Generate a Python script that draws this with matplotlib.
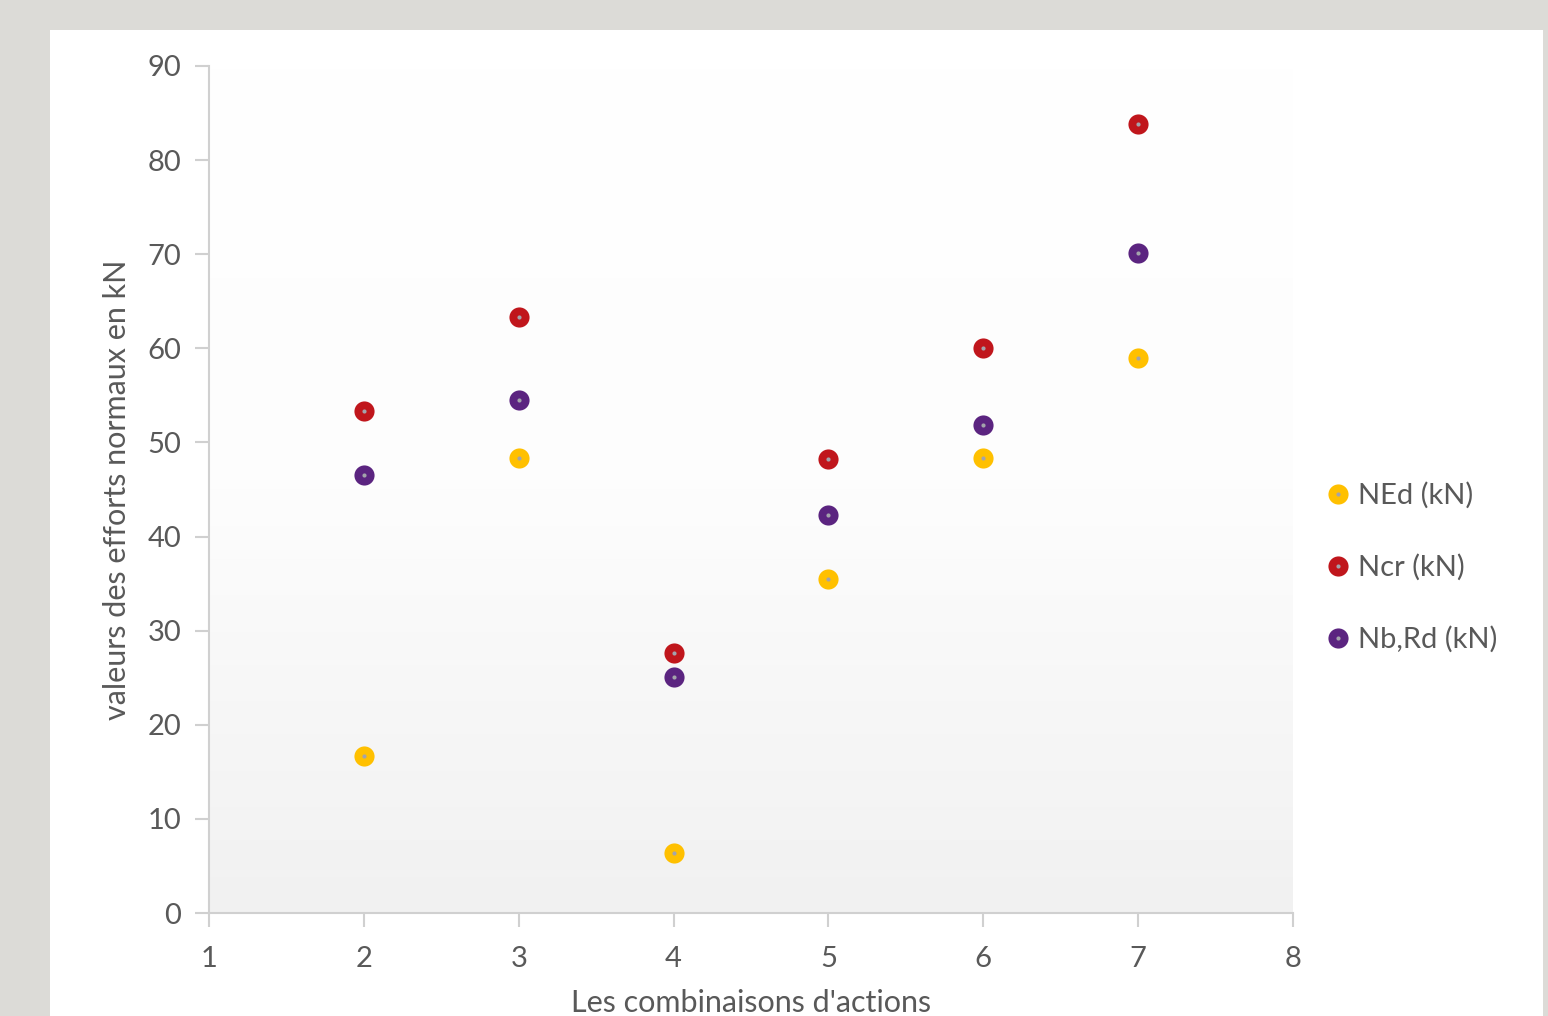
import matplotlib.pyplot as plt
import numpy as np
from matplotlib.patches import Rectangle
from matplotlib.lines import Line2D
from matplotlib.colors import LinearSegmentedColormap

plt.rcParams['font.family'] = ['Lato', 'DejaVu Sans']

combinaisons = [2, 3, 4, 5, 6, 7]
ned = [16.7, 48.3, 6.4, 35.5, 48.3, 59.0]
ncr = [53.3, 63.3, 27.6, 48.2, 60.0, 83.8]
nbrd = [46.5, 54.5, 25.1, 42.3, 51.9, 70.1]
series_names = ['NEd (kN)', 'Ncr (kN)', 'Nb,Rd (kN)']
series_colors = ['#ffc000', '#c0161c', '#5b2480']
x_ticks = [1, 2, 3, 4, 5, 6, 7, 8]
y_ticks = [0, 10, 20, 30, 40, 50, 60, 70, 80, 90]

W, H = 1548, 1016
fig = plt.figure(figsize=(W / 100, H / 100), dpi=100)
fig.patch.set_facecolor('#dcdbd7')
# white card behind the chart
fig.patches.append(Rectangle((50 / W, 0), (1543 - 50) / W, (H - 30) / H,
                             transform=fig.transFigure, facecolor='white',
                             edgecolor='none', zorder=-10))

ax = fig.add_axes([209 / W, (H - 913) / H, (1293 - 209) / W, (913 - 66) / H])
ax.set_facecolor('none')

# soft vertical gradient in the plot area
grad = np.linspace(0, 1, 256).reshape(-1, 1)
bg_cmap = LinearSegmentedColormap.from_list('bg', ['#ffffff', '#fdfdfd', '#f1f1f1'])
ax.imshow(grad, extent=[1, 8, 0, 90], aspect='auto', origin='upper',
          cmap=bg_cmap, zorder=0)

handles = []
for vals, name, col in zip([ned, ncr, nbrd], series_names, series_colors):
    ax.plot(combinaisons, vals, 'o', ms=14.5, color=col, mec='none', zorder=3)
    ax.plot(combinaisons, vals, 'o', ms=3, color='#a3a3ab', mec='none', zorder=4)
    big = Line2D([], [], marker='o', ls='none', ms=14.5, color=col, mec='none')
    dot = Line2D([], [], marker='o', ls='none', ms=3, color='#a3a3ab', mec='none')
    handles.append((big, dot))

ax.set_xlim(1, 8)
ax.set_ylim(0, 90)
ax.set_xticks(x_ticks)
ax.set_yticks(y_ticks)

for s in ['top', 'right']:
    ax.spines[s].set_visible(False)
for s in ['left', 'bottom']:
    ax.spines[s].set_color('#d0d0d0')
    ax.spines[s].set_linewidth(1.5)
ax.tick_params(length=10, width=1.5, color='#d0d0d0', labelsize=21,
               labelcolor='#595959')
ax.tick_params(axis='x', pad=14)
ax.tick_params(axis='y', pad=10)

ax.set_xlabel("Les combinaisons d'actions", fontsize=22, color='#595959', labelpad=12)
ax.set_ylabel('valeurs des efforts normaux en kN', fontsize=22, color='#595959', labelpad=12)

ax.legend(handles, series_names, loc='center left', bbox_to_anchor=(1.02, 0.408),
          frameon=False, fontsize=21, labelcolor='#595959', handlelength=0.8,
          handletextpad=0.3, labelspacing=1.55, borderaxespad=0)

fig.savefig('out.png', dpi=100, facecolor=fig.get_facecolor())
